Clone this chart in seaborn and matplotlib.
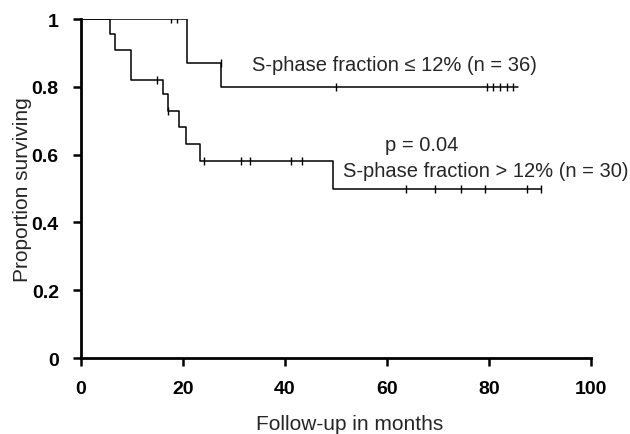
import pandas as pd
import matplotlib
matplotlib.use('Agg')
import matplotlib.pyplot as plt
import seaborn as sns

# Kaplan-Meier step data
low_times = [0, 20.8, 27.5, 85.7]
low_surv = [1.0, 0.87, 0.80, 0.80]
low_cens_t = [17.6, 18.8, 27.5, 50.0, 79.6, 80.8, 82.2, 83.5, 84.7]
low_cens_s = [1.0, 1.0, 0.87, 0.80, 0.80, 0.80, 0.80, 0.80, 0.80]

high_times = [0, 5.7, 6.7, 9.8, 16.1, 17.0, 19.2, 20.6, 23.3, 49.4, 90.2]
high_surv = [1.0, 0.955, 0.91, 0.82, 0.78, 0.73, 0.68, 0.63, 0.58, 0.50, 0.50]
high_cens_t = [14.9, 17.0, 24.1, 31.4, 33.1, 41.2, 43.3, 63.7, 69.4, 74.5, 79.2, 87.5, 90.2]
high_cens_s = [0.82, 0.73, 0.58, 0.58, 0.58, 0.58, 0.58, 0.50, 0.50, 0.50, 0.50, 0.50, 0.50]

x_ticks = [0, 20, 40, 60, 80, 100]
y_ticks = [0, 0.2, 0.4, 0.6, 0.8, 1.0]
y_labels = ['0', '0.2', '0.4', '0.6', '0.8', '1']

sns.set_style('ticks')
plt.rcParams['font.family'] = ['Liberation Sans', 'DejaVu Sans']

fig = plt.figure(figsize=(6.3, 4.35), dpi=100)
ax = fig.add_axes([0.1286, 0.1747, 0.8094, 0.7793])

steps = pd.concat([
    pd.DataFrame({'t': low_times, 's': low_surv, 'g': 'low'}),
    pd.DataFrame({'t': high_times, 's': high_surv, 'g': 'high'}),
])
cens = pd.concat([
    pd.DataFrame({'t': low_cens_t, 's': low_cens_s, 'g': 'low'}),
    pd.DataFrame({'t': high_cens_t, 's': high_cens_s, 'g': 'high'}),
])

for g in ['low', 'high']:
    d = steps[steps['g'] == g]
    sns.lineplot(data=d, x='t', y='s', drawstyle='steps-post', color='black',
                 linewidth=1.1, ax=ax, estimator=None, sort=False)
sns.scatterplot(data=cens, x='t', y='s', marker='|', s=28, color='black',
                linewidth=1.0, ax=ax, legend=False)

ax.text(33.5, 0.867, 'S-phase fraction \u2264 12% (n = 36)', fontsize=14.5, va='center')
ax.text(66.9, 0.63, 'p = 0.04', fontsize=14.5, va='center', ha='center')
ax.text(51.4, 0.553, 'S-phase fraction > 12% (n = 30)', fontsize=14.5, va='center')

ax.set_xlim(0, 100)
ax.set_ylim(0, 1)
ax.set_xticks(x_ticks)
ax.set_yticks(y_ticks)
ax.set_yticklabels(y_labels)
for lab in ax.get_xticklabels() + ax.get_yticklabels():
    lab.set_fontweight('bold')
    lab.set_fontsize(14)
    lab.set_family(['Liberation Sans Narrow', 'Liberation Sans', 'DejaVu Sans'])
ax.tick_params(axis='both', direction='out', length=6, width=1.8, colors='black', pad=10)
ax.set_xlabel('Follow-up in months', fontsize=15)
ax.xaxis.set_label_coords(0.527, -0.165)
ax.set_ylabel('Proportion surviving', fontsize=15, labelpad=0)
sns.despine(ax=ax)
for sp in ['left', 'bottom']:
    ax.spines[sp].set_linewidth(2)
    ax.spines[sp].set_color('black')

fig.savefig('out.png', dpi=100)
